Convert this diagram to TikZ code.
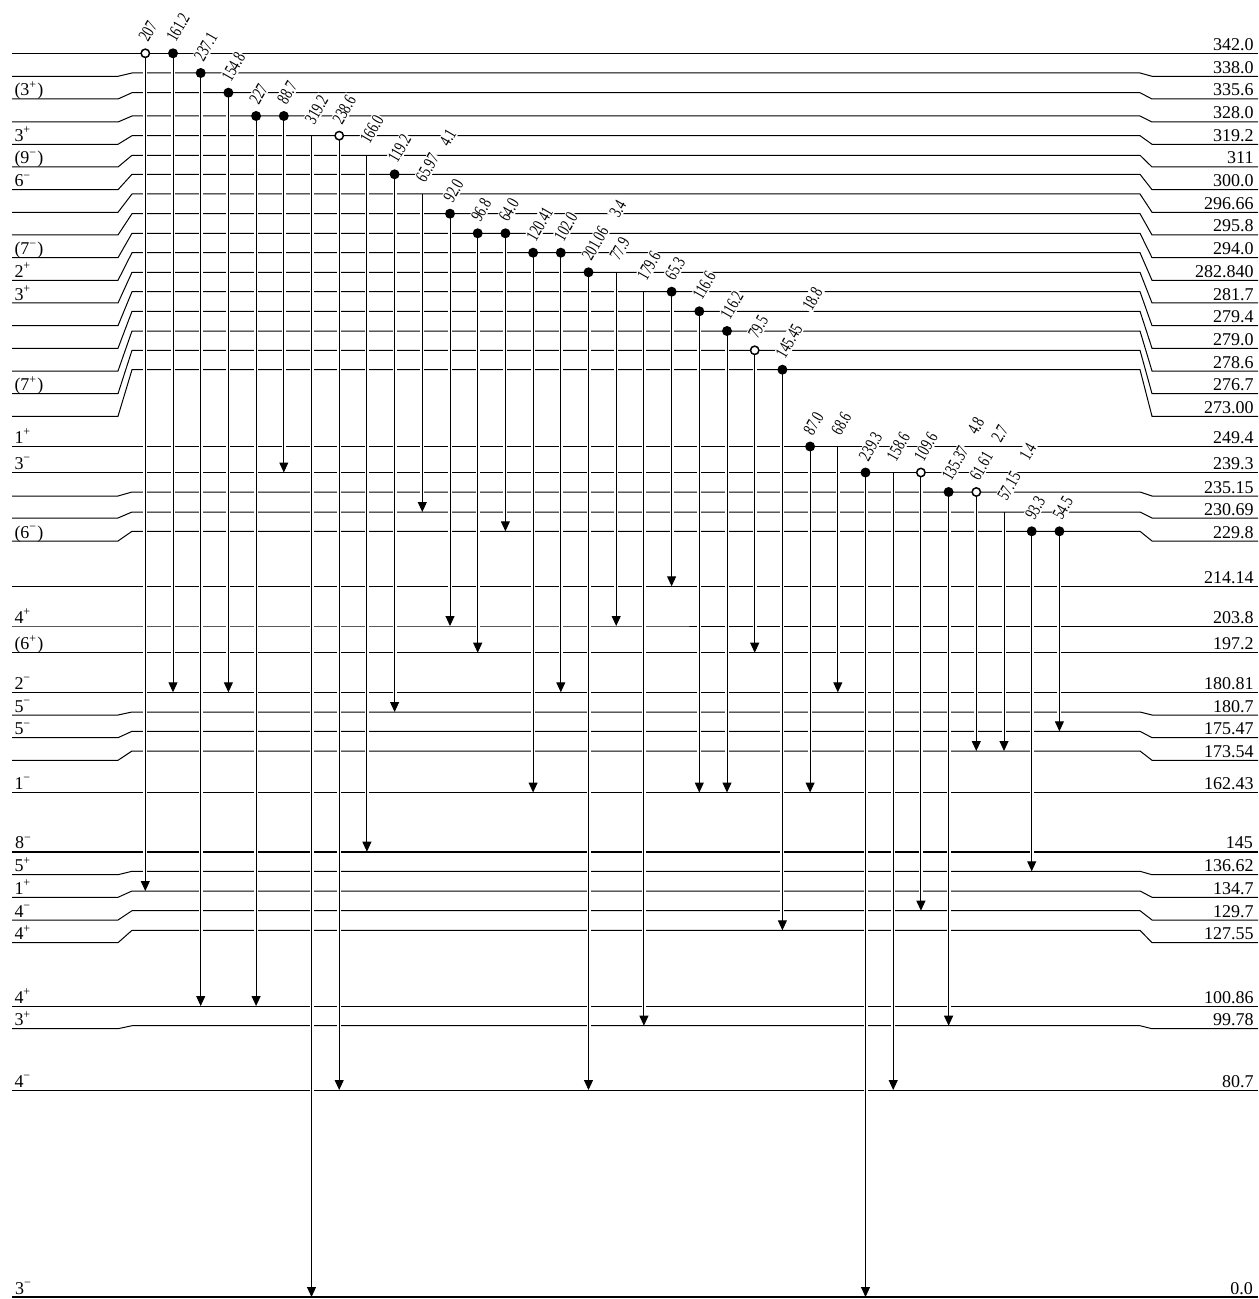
\documentclass[tikz,border=0pt]{standalone}
\usepackage{fontspec}
\setmainfont{Liberation Serif}
\newfontfamily\gammafont[FakeStretch=0.72]{Liberation Serif}
\usetikzlibrary{arrows.meta, calc}
\tikzset{
  levelline/.style = {
    draw=black,
    line width=0.5pt
  },
  groundline/.style = {
    draw=black,
    line width=1.2pt
  },
  spinlabel/.style = {
    anchor=base west,
    inner sep=0pt,
    xshift=1pt,
    yshift=1.5pt,
    font=\fontsize{9}{10}\selectfont
  },
  energylabel/.style = {
    anchor=base east,
    inner sep=0pt,
    xshift=-2pt,
    yshift=1.5pt,
    font=\fontsize{9}{10}\selectfont
  },
  gammalabel/.style = {
    rotate=60,
    anchor=base west,
    inner sep=0.6pt,
    fill=white,
    font=\gammafont\fontsize{9}{10}\selectfont
  },
  gammaline/.style = {
    -{Triangle[length=5pt, width=4.5pt]},
    line width=0.5pt,
    preaction={draw=white, line width=2pt, -, shorten <=1.5pt, shorten >=4pt}
  },
  fulldot/.style = {
    circle,
    fill=black,
    inner sep=0pt,
    minimum size=5pt
  },
  opendot/.style = {
    circle,
    draw=black,
    fill=white,
    line width=0.75pt,
    inner sep=0pt,
    minimum size=4.2pt
  }
}

\begin{document}
\begin{tikzpicture}[x=0.5pt, y=-0.5pt]
  \useasboundingbox (0,0) rectangle (1258,1299);

  % Upper band of levels (bent at both ends)
  \draw[levelline] (12,53.3) -- (132,53.3) coordinate (l342) -- (1258,53.3) node[energylabel] (e342) {342.0};
  \draw[levelline] (12,76.3) -- (118,76.3) -- (132,73) coordinate (l338) -- (1140,73) -- (1152,76.3) -- (1258,76.3) node[energylabel] (e338) {338.0};
  \draw[levelline] (12,99) node[spinlabel] (j3356) {(3\textsuperscript{+})} -- (118,99) -- (132,92.7) coordinate (l3356) -- (1140,92.7) -- (1152,99) -- (1258,99) node[energylabel] (e3356) {335.6};
  \draw[levelline] (12,122) -- (118,122) -- (132,116) coordinate (l328) -- (1140,116) -- (1152,122) -- (1258,122) node[energylabel] (e328) {328.0};
  \draw[levelline] (12,144.3) node[spinlabel] (j3192) {3\textsuperscript{+}} -- (118,144.3) -- (132,135.7) coordinate (l3192) -- (1140,135.7) -- (1152,144.3) -- (1258,144.3) node[energylabel] (e3192) {319.2};
  \draw[levelline] (12,167) node[spinlabel] (j311) {(9\textsuperscript{−})} -- (118,167) -- (132,155.3) coordinate (l311) -- (1140,155.3) -- (1152,167) -- (1258,167) node[energylabel] (e311) {311};
  \draw[levelline] (12,189.7) node[spinlabel] (j300) {6\textsuperscript{−}} -- (118,189.7) -- (132,174.3) coordinate (l300) -- (1140,174.3) -- (1152,189.7) -- (1258,189.7) node[energylabel] (e300) {300.0};
  \draw[levelline] (12,212.3) -- (118,212.3) -- (132,194) coordinate (l29666) -- (1140,194) -- (1152,212.3) -- (1258,212.3) node[energylabel] (e29666) {296.66};
  \draw[levelline] (12,235) -- (118,235) -- (132,213.7) coordinate (l2958) -- (1140,213.7) -- (1152,235) -- (1258,235) node[energylabel] (e2958) {295.8};
  \draw[levelline] (12,257.7) node[spinlabel] (j294) {(7\textsuperscript{−})} -- (118,257.7) -- (132,233.3) coordinate (l294) -- (1140,233.3) -- (1152,257.7) -- (1258,257.7) node[energylabel] (e294) {294.0};
  \draw[levelline] (12,280.3) node[spinlabel] (j28284) {2\textsuperscript{+}} -- (118,280.3) -- (132,252.7) coordinate (l28284) -- (1140,252.7) -- (1152,280.3) -- (1258,280.3) node[energylabel] (e28284) {282.840};
  \draw[levelline] (12,303) node[spinlabel] (j2817) {3\textsuperscript{+}} -- (118,303) -- (132,272.3) coordinate (l2817) -- (1140,272.3) -- (1152,303) -- (1258,303) node[energylabel] (e2817) {281.7};
  \draw[levelline] (12,325.7) -- (118,325.7) -- (132,291.7) coordinate (l2794) -- (1140,291.7) -- (1152,325.7) -- (1258,325.7) node[energylabel] (e2794) {279.4};
  \draw[levelline] (12,348.3) -- (118,348.3) -- (132,311.3) coordinate (l2790) -- (1140,311.3) -- (1152,348.3) -- (1258,348.3) node[energylabel] (e2790) {279.0};
  \draw[levelline] (12,371) -- (118,371) -- (132,331) coordinate (l2786) -- (1140,331) -- (1152,371) -- (1258,371) node[energylabel] (e2786) {278.6};
  \draw[levelline] (12,393.7) node[spinlabel] (j2767) {(7\textsuperscript{+})} -- (118,393.7) -- (132,350.3) coordinate (l2767) -- (1140,350.3) -- (1152,393.7) -- (1258,393.7) node[energylabel] (e2767) {276.7};
  \draw[levelline] (12,416.3) -- (118,416.3) -- (132,369.7) coordinate (l273) -- (1140,369.7) -- (1152,416.3) -- (1258,416.3) node[energylabel] (e273) {273.00};

  % Middle band of levels
  \draw[levelline] (12,446.5) node[spinlabel] (j2494) {1\textsuperscript{+}} -- (132,446.5) coordinate (l2494) -- (1258,446.5) node[energylabel] (e2494) {249.4};
  \draw[levelline] (12,472.5) node[spinlabel] (j2393) {3\textsuperscript{−}} -- (132,472.5) coordinate (l2393) -- (1258,472.5) node[energylabel] (e2393) {239.3};
  \draw[levelline] (12,496) -- (118,496) -- (132,492) coordinate (l23515) -- (1140,492) -- (1152,496) -- (1258,496) node[energylabel] (e23515) {235.15};
  \draw[levelline] (12,518) -- (118,518) -- (132,512) coordinate (l23069) -- (1140,512) -- (1152,518) -- (1258,518) node[energylabel] (e23069) {230.69};
  \draw[levelline] (12,541) node[spinlabel] (j2298) {(6\textsuperscript{−})} -- (118,541) -- (132,531.3) coordinate (l2298) -- (1140,531.3) -- (1152,541) -- (1258,541) node[energylabel] (e2298) {229.8};
  \draw[levelline] (12,586.3) -- (132,586.3) coordinate (l21414) -- (1258,586.3) node[energylabel] (e21414) {214.14};
  \draw[levelline] (12,626) node[spinlabel] (j2038) {4\textsuperscript{+}} -- (132,626) coordinate (l2038) -- (1258,626) node[energylabel] (e2038) {203.8};
  \draw[levelline] (12,652.7) node[spinlabel] (j1972) {(6\textsuperscript{+})} -- (132,652.7) coordinate (l1972) -- (1258,652.7) node[energylabel] (e1972) {197.2};
  \draw[levelline] (12,692.3) node[spinlabel] (j18081) {2\textsuperscript{−}} -- (132,692.3) coordinate (l18081) -- (1258,692.3) node[energylabel] (e18081) {180.81};
  \draw[levelline] (12,715) node[spinlabel] (j1807) {5\textsuperscript{−}} -- (118,715) -- (132,712) coordinate (l1807) -- (1140,712) -- (1152,715) -- (1258,715) node[energylabel] (e1807) {180.7};
  \draw[levelline] (12,737.7) node[spinlabel] (j17547) {5\textsuperscript{−}} -- (118,737.7) -- (132,731.3) coordinate (l17547) -- (1140,731.3) -- (1152,737.7) -- (1258,737.7) node[energylabel] (e17547) {175.47};
  \draw[levelline] (12,760.3) -- (118,760.3) -- (132,751) coordinate (l17354) -- (1140,751) -- (1152,760.3) -- (1258,760.3) node[energylabel] (e17354) {173.54};
  \draw[levelline] (12,792.5) node[spinlabel] (j16243) {1\textsuperscript{−}} -- (132,792.5) coordinate (l16243) -- (1258,792.5) node[energylabel] (e16243) {162.43};

  % Isomer and lower levels
  \draw[groundline] (12,851.7) node[spinlabel] (j145) {8\textsuperscript{−}} -- (132,851.7) coordinate (l145) -- (1258,851.7) node[energylabel] (e145) {145};
  \draw[levelline] (12,874.7) node[spinlabel] (j13662) {5\textsuperscript{+}} -- (118,874.7) -- (132,871.3) coordinate (l13662) -- (1140,871.3) -- (1152,874.7) -- (1258,874.7) node[energylabel] (e13662) {136.62};
  \draw[levelline] (12,897.3) node[spinlabel] (j1347) {1\textsuperscript{+}} -- (118,897.3) -- (132,891) coordinate (l1347) -- (1140,891) -- (1152,897.3) -- (1258,897.3) node[energylabel] (e1347) {134.7};
  \draw[levelline] (12,920) node[spinlabel] (j1297) {4\textsuperscript{−}} -- (118,920) -- (132,910.7) coordinate (l1297) -- (1140,910.7) -- (1152,920) -- (1258,920) node[energylabel] (e1297) {129.7};
  \draw[levelline] (12,942.7) node[spinlabel] (j12755) {4\textsuperscript{+}} -- (118,942.7) -- (132,930.3) coordinate (l12755) -- (1140,930.3) -- (1152,942.7) -- (1258,942.7) node[energylabel] (e12755) {127.55};
  \draw[levelline] (12,1006) node[spinlabel] (j10086) {4\textsuperscript{+}} -- (132,1006) coordinate (l10086) -- (1258,1006) node[energylabel] (e10086) {100.86};
  \draw[levelline] (12,1028.7) node[spinlabel] (j9978) {3\textsuperscript{+}} -- (118,1028.7) -- (132,1025.7) coordinate (l9978) -- (1140,1025.7) -- (1152,1028.7) -- (1258,1028.7) node[energylabel] (e9978) {99.78};
  \draw[levelline] (12,1090) node[spinlabel] (j807) {4\textsuperscript{−}} -- (132,1090) coordinate (l807) -- (1258,1090) node[energylabel] (e807) {80.7};
  \draw[groundline] (12,1297) node[spinlabel] (j0) {3\textsuperscript{−}} -- (132,1297) coordinate (l0) -- (1258,1297) node[energylabel] (e0) {0.0};

  % Transition columns
  \coordinate (c1) at (145.3,0);  \coordinate (c2) at (173.0,0);  \coordinate (c3) at (200.7,0);
  \coordinate (c4) at (228.4,0);  \coordinate (c5) at (256.1,0);  \coordinate (c6) at (283.8,0);
  \coordinate (c7) at (311.5,0);  \coordinate (c8) at (339.2,0);  \coordinate (c9) at (366.9,0);
  \coordinate (c10) at (394.6,0); \coordinate (c11) at (422.3,0); \coordinate (c12) at (450.0,0);
  \coordinate (c13) at (477.7,0); \coordinate (c14) at (505.4,0); \coordinate (c15) at (533.1,0);
  \coordinate (c16) at (560.8,0); \coordinate (c17) at (588.5,0); \coordinate (c18) at (616.2,0);
  \coordinate (c19) at (643.9,0); \coordinate (c20) at (671.6,0); \coordinate (c21) at (699.3,0);
  \coordinate (c22) at (727.0,0); \coordinate (c23) at (754.7,0); \coordinate (c24) at (782.4,0);
  \coordinate (c25) at (810.1,0); \coordinate (c26) at (837.8,0); \coordinate (c27) at (865.5,0);
  \coordinate (c28) at (893.2,0); \coordinate (c29) at (920.9,0); \coordinate (c30) at (948.6,0);
  \coordinate (c31) at (976.3,0); \coordinate (c32) at (1004.0,0); \coordinate (c33) at (1031.7,0);
  \coordinate (c34) at (1059.4,0);

  % Gamma energies
  \node[gammalabel] (g1) at ($(c1 |- l342)+(2,-9)$) {207};
  \node[gammalabel] (g2) at ($(c2 |- l342)+(2,-9)$) {161.2};
  \node[gammalabel] (g3) at ($(c3 |- l338)+(2,-9)$) {237.1};
  \node[gammalabel] (g4) at ($(c4 |- l3356)+(2,-9)$) {154.8};
  \node[gammalabel] (g5) at ($(c5 |- l328)+(2,-9)$) {227};
  \node[gammalabel] (g6) at ($(c6 |- l328)+(2,-9)$) {88.7};
  \node[gammalabel] (g7) at ($(c7 |- l3192)+(2,-9)$) {319.2};
  \node[gammalabel] (g8) at ($(c8 |- l3192)+(2,-9)$) {238.6};
  \node[gammalabel] (g9) at ($(c9 |- l311)+(2,-9)$) {166.0};
  \node[gammalabel] (g10) at ($(c10 |- l300)+(2,-9)$) {119.2};
  \node[gammalabel] (g11) at ($(c11 |- l29666)+(2,-9)$) {65.97};
  \node[gammalabel] (g12) at ($(c12 |- l2958)+(2,-9)$) {92.0};
  \node[gammalabel] (g13) at ($(c13 |- l294)+(2,-9)$) {96.8};
  \node[gammalabel] (g14) at ($(c14 |- l294)+(2,-9)$) {64.0};
  \node[gammalabel] (g15) at ($(c15 |- l28284)+(2,-9)$) {120.41};
  \node[gammalabel] (g16) at ($(c16 |- l28284)+(2,-9)$) {102.0};
  \node[gammalabel] (g17) at ($(c17 |- l2817)+(2,-9)$) {201.06};
  \node[gammalabel] (g18) at ($(c18 |- l2817)+(2,-9)$) {77.9};
  \node[gammalabel] (g19) at ($(c19 |- l2794)+(2,-9)$) {179.6};
  \node[gammalabel] (g20) at ($(c20 |- l2794)+(2,-9)$) {65.3};
  \node[gammalabel] (g21) at ($(c21 |- l2790)+(2,-9)$) {116.6};
  \node[gammalabel] (g22) at ($(c22 |- l2786)+(2,-9)$) {116.2};
  \node[gammalabel] (g23) at ($(c23 |- l2767)+(2,-9)$) {79.5};
  \node[gammalabel] (g24) at ($(c24 |- l273)+(2,-9)$) {145.45};
  \node[gammalabel] (g25) at ($(c25 |- l2494)+(2,-9)$) {87.0};
  \node[gammalabel] (g26) at ($(c26 |- l2494)+(2,-9)$) {68.6};
  \node[gammalabel] (g27) at ($(c27 |- l2393)+(2,-9)$) {239.3};
  \node[gammalabel] (g28) at ($(c28 |- l2393)+(2,-9)$) {158.6};
  \node[gammalabel] (g29) at ($(c29 |- l2393)+(2,-9)$) {109.6};
  \node[gammalabel] (g30) at ($(c30 |- l23515)+(2,-9)$) {135.37};
  \node[gammalabel] (g31) at ($(c31 |- l23515)+(2,-9)$) {61.61};
  \node[gammalabel] (g32) at ($(c32 |- l23069)+(2,-9)$) {57.15};
  \node[gammalabel] (g33) at ($(c33 |- l2298)+(2,-9)$) {93.3};
  \node[gammalabel] (g34) at ($(c34 |- l2298)+(2,-9)$) {54.5};
  % weak lines without arrows
  \node[gammalabel] (g4p1) at (448,149) {4.1};
  \node[gammalabel] (g3p4) at (618,220) {3.4};
  \node[gammalabel] (g18p8) at (811,313) {18.8};
  \node[gammalabel] (g4p8) at (976,437) {4.8};
  \node[gammalabel] (g2p7) at (1000,445) {2.7};
  \node[gammalabel] (g1p4) at (1028,463) {1.4};

  % Transitions
  \draw[gammaline] (c1 |- l342) -- (c1 |- l1347);
  \draw[gammaline] (c2 |- l342) -- (c2 |- l18081);
  \draw[gammaline] (c3 |- l338) -- (c3 |- l10086);
  \draw[gammaline] (c4 |- l3356) -- (c4 |- l18081);
  \draw[gammaline] (c5 |- l328) -- (c5 |- l10086);
  \draw[gammaline] (c6 |- l328) -- (c6 |- l2393);
  \draw[gammaline] (c7 |- l3192) -- (c7 |- l0);
  \draw[gammaline] (c8 |- l3192) -- (c8 |- l807);
  \draw[gammaline] (c9 |- l311) -- (c9 |- l145);
  \draw[gammaline] (c10 |- l300) -- (c10 |- l1807);
  \draw[gammaline] (c11 |- l29666) -- (c11 |- l23069);
  \draw[gammaline] (c12 |- l2958) -- (c12 |- l2038);
  \draw[gammaline] (c13 |- l294) -- (c13 |- l1972);
  \draw[gammaline] (c14 |- l294) -- (c14 |- l2298);
  \draw[gammaline] (c15 |- l28284) -- (c15 |- l16243);
  \draw[gammaline] (c16 |- l28284) -- (c16 |- l18081);
  \draw[gammaline] (c17 |- l2817) -- (c17 |- l807);
  \draw[gammaline] (c18 |- l2817) -- (c18 |- l2038);
  \draw[gammaline] (c19 |- l2794) -- (c19 |- l9978);
  \draw[gammaline] (c20 |- l2794) -- (c20 |- l21414);
  \draw[gammaline] (c21 |- l2790) -- (c21 |- l16243);
  \draw[gammaline] (c22 |- l2786) -- (c22 |- l16243);
  \draw[gammaline] (c23 |- l2767) -- (c23 |- l1972);
  \draw[gammaline] (c24 |- l273) -- (c24 |- l12755);
  \draw[gammaline] (c25 |- l2494) -- (c25 |- l16243);
  \draw[gammaline] (c26 |- l2494) -- (c26 |- l18081);
  \draw[gammaline] (c27 |- l2393) -- (c27 |- l0);
  \draw[gammaline] (c28 |- l2393) -- (c28 |- l807);
  \draw[gammaline] (c29 |- l2393) -- (c29 |- l1297);
  \draw[gammaline] (c30 |- l23515) -- (c30 |- l9978);
  \draw[gammaline] (c31 |- l23515) -- (c31 |- l17354);
  \draw[gammaline] (c32 |- l23069) -- (c32 |- l17354);
  \draw[gammaline] (c33 |- l2298) -- (c33 |- l13662);
  \draw[gammaline] (c34 |- l2298) -- (c34 |- l17547);

  % Coincidence markers
  \node[opendot] (d1) at (c1 |- l342) {};
  \node[fulldot] (d2) at (c2 |- l342) {};
  \node[fulldot] (d3) at (c3 |- l338) {};
  \node[fulldot] (d4) at (c4 |- l3356) {};
  \node[fulldot] (d5) at (c5 |- l328) {};
  \node[fulldot] (d6) at (c6 |- l328) {};
  \node[opendot] (d8) at (c8 |- l3192) {};
  \node[fulldot] (d10) at (c10 |- l300) {};
  \node[fulldot] (d12) at (c12 |- l2958) {};
  \node[fulldot] (d13) at (c13 |- l294) {};
  \node[fulldot] (d14) at (c14 |- l294) {};
  \node[fulldot] (d15) at (c15 |- l28284) {};
  \node[fulldot] (d16) at (c16 |- l28284) {};
  \node[fulldot] (d17) at (c17 |- l2817) {};
  \node[fulldot] (d20) at (c20 |- l2794) {};
  \node[fulldot] (d21) at (c21 |- l2790) {};
  \node[fulldot] (d22) at (c22 |- l2786) {};
  \node[opendot] (d23) at (c23 |- l2767) {};
  \node[fulldot] (d24) at (c24 |- l273) {};
  \node[fulldot] (d25) at (c25 |- l2494) {};
  \node[fulldot] (d27) at (c27 |- l2393) {};
  \node[opendot] (d29) at (c29 |- l2393) {};
  \node[fulldot] (d30) at (c30 |- l23515) {};
  \node[opendot] (d31) at (c31 |- l23515) {};
  \node[fulldot] (d33) at (c33 |- l2298) {};
  \node[fulldot] (d34) at (c34 |- l2298) {};
\end{tikzpicture}
\end{document}
